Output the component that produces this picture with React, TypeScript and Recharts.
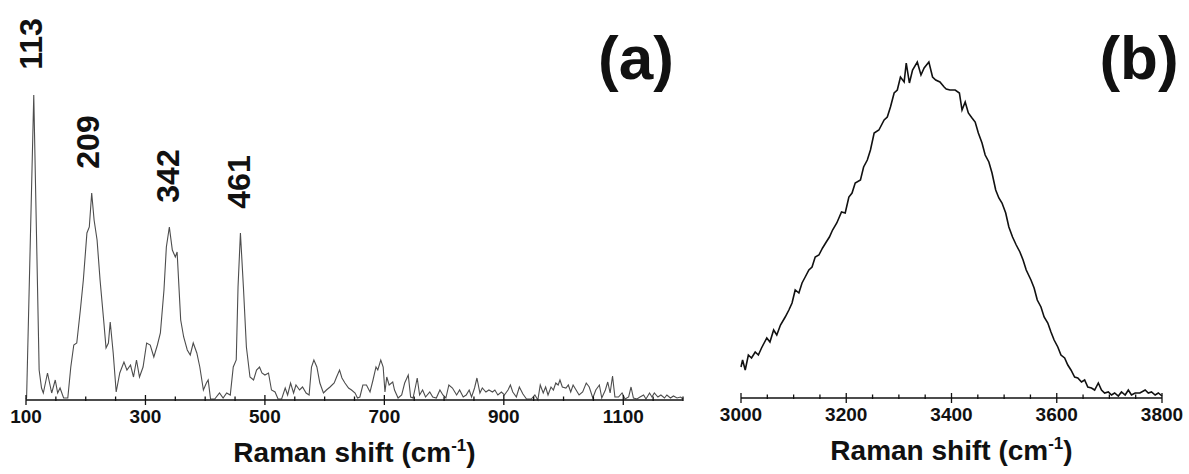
import React from 'react';
import { ComposedChart, Line, Scatter, XAxis, YAxis } from 'recharts';

// Panel (a): low-frequency Raman spectrum
const shiftA = [
  100, 101, 113, 122, 126, 129, 136, 143, 149, 153, 157, 163, 170, 175, 180, 185, 191, 196, 202, 206,
  210, 214, 219, 224, 230, 234, 238, 241, 246, 251, 257, 264, 269, 275, 280, 285, 290, 296, 302, 308,
  314, 320, 325, 331, 335, 340, 345, 350, 353, 359, 364, 370, 375, 380, 386, 391, 397, 402, 405, 409,
  416, 424, 430, 436, 442, 447, 452, 455, 459, 464, 469, 475, 481, 486, 491, 495, 500, 506, 511, 517,
  522, 528, 534, 538, 543, 548, 552, 558, 563, 569, 574, 578, 582, 587, 592, 598, 603, 609, 616, 620,
  625, 629, 634, 640, 645, 651, 655, 659, 664, 670, 676, 681, 686, 689, 694, 698, 701, 704, 708, 714,
  717, 723, 729, 734, 740, 744, 748, 752, 755, 759, 764, 769, 776, 781, 787, 793, 798, 803, 808, 814,
  821, 826, 832, 837, 842, 846, 851, 855, 860, 864, 870, 875, 881, 885, 890, 896, 901, 907, 911, 915,
  921, 926, 932, 938, 946, 952, 957, 961, 966, 970, 974, 979, 983, 987, 991, 994, 998, 1004, 1008, 1012,
  1016, 1021, 1026, 1032, 1038, 1043, 1049, 1054, 1060, 1064, 1070, 1074, 1078, 1082, 1086, 1092, 1098, 1103, 1109, 1113,
  1117, 1123, 1128, 1134, 1138, 1144, 1148, 1152, 1158, 1163, 1169, 1173, 1179, 1184, 1190, 1196, 1200,
];
const intensityA = [
  1, 2, 305, 30, 12, 7, 27, 7, 20, 7, 12, 2, 2, 33, 55, 57, 90, 120, 167, 173,
  207, 180, 160, 120, 80, 52, 57, 78, 47, 8, 27, 38, 30, 35, 23, 40, 23, 33, 57, 55,
  43, 55, 67, 110, 153, 173, 150, 143, 148, 80, 63, 50, 45, 57, 47, 33, 10, 17, 20, 1,
  1, 7, 2, 7, 5, 33, 40, 113, 167, 113, 53, 23, 20, 30, 33, 27, 25, 27, 10, 8,
  1, 1, 12, 5, 17, 7, 15, 10, 13, 7, 5, 33, 40, 33, 17, 7, 10, 13, 17, 23,
  30, 22, 17, 12, 10, 7, 2, 3, 15, 15, 8, 20, 33, 30, 40, 33, 8, 23, 15, 18,
  10, 2, 5, 17, 25, 3, 2, 13, 22, 5, 10, 3, 8, 3, 2, 10, 5, 2, 15, 12,
  5, 10, 3, 5, 10, 3, 12, 22, 7, 12, 8, 10, 8, 10, 5, 8, 5, 10, 15, 8,
  3, 13, 6, 1, 1, 5, 0, 15, 7, 13, 5, 13, 10, 17, 15, 20, 13, 12, 15, 8,
  15, 10, 5, 8, 17, 13, 2, 10, 15, 2, 10, 18, 7, 24, 3, 3, 7, 1, 3, 13,
  2, 1, 3, 5, 1, 7, 3, 7, 3, 5, 2, 5, 2, 4, 2, 3, 1,
];

// Panel (b): O-H stretching region
const shiftB = [
  3000, 3003, 3008, 3014, 3020, 3027, 3033, 3039, 3049, 3055, 3062, 3068, 3075, 3084, 3091, 3097, 3103, 3110, 3116, 3122,
  3129, 3135, 3141, 3148, 3155, 3162, 3168, 3174, 3182, 3191, 3198, 3205, 3211, 3217, 3227, 3233, 3240, 3246, 3253, 3262,
  3272, 3278, 3284, 3291, 3297, 3303, 3310, 3314, 3320, 3326, 3335, 3342, 3348, 3357, 3364, 3370, 3378, 3386, 3390, 3397,
  3407, 3415, 3420, 3426, 3432, 3439, 3445, 3451, 3458, 3464, 3471, 3477, 3484, 3490, 3496, 3503, 3509, 3516, 3523, 3530,
  3536, 3542, 3551, 3557, 3563, 3570, 3576, 3583, 3589, 3595, 3602, 3608, 3615, 3621, 3627, 3634, 3640, 3647, 3653, 3659,
  3666, 3672, 3679, 3685, 3691, 3698, 3704, 3710, 3717, 3723, 3730, 3736, 3742, 3749, 3758, 3768, 3774, 3780, 3787, 3793,
  3800,
];
const intensityB = [
  31, 38, 28, 43, 40, 46, 43, 50, 60, 56, 68, 63, 73, 81, 88, 95, 108, 105, 115, 121,
  128, 131, 141, 143, 150, 156, 161, 168, 175, 186, 185, 201, 205, 215, 218, 231, 238, 248, 265, 268,
  278, 281, 291, 305, 308, 321, 316, 335, 315, 328, 336, 323, 330, 336, 321, 318, 316, 311, 309, 308,
  308, 305, 288, 296, 285, 280, 276, 265, 255, 243, 236, 225, 208, 200, 195, 185, 171, 161, 153, 146,
  138, 128, 118, 110, 98, 91, 81, 75, 66, 58, 51, 43, 40, 33, 28, 21, 20, 16, 18, 11,
  10, 8, 15, 8, 5, 6, 3, 5, 2, 6, 3, 8, 3, 5, 5, 8, 5, 6, 3, 5,
  2,
];

const peakShifts = [113, 209, 342, 461];
const peakIntensities = [305, 207, 173, 167];

const ticksA = [100, 150, 200, 250, 300, 350, 400, 450, 500, 550, 600, 650, 700, 750, 800, 850, 900, 950, 1000, 1050, 1100, 1150, 1200];
const majorTicksA = [100, 300, 500, 700, 900, 1100];
const ticksB = [3000, 3050, 3100, 3150, 3200, 3250, 3300, 3350, 3400, 3450, 3500, 3550, 3600, 3650, 3700, 3750, 3800];
const majorTicksB = [3000, 3200, 3400, 3600, 3800];

const panelLabels = ['(a)', '(b)'];
const axisTitle = 'Raman shift (cm';
const axisTitleSup = '-1';
const axisTitleEnd = ')';

const FONT = '"Liberation Sans", Arial, Helvetica, sans-serif';

const dataA = shiftA.map((x, i) => ({ x, y: intensityA[i] }));
const dataB = shiftB.map((x, i) => ({ x, y: intensityB[i] }));
const peakData = peakShifts.map((x, i) => ({ x, y: peakIntensities[i], label: String(x) }));

function makeTick(majors: number[]) {
  return (props: any) => {
    const { x, y, payload } = props;
    const v = payload.value;
    const isMajor = majors.includes(v);
    return (
      <g>
        <line x1={x} x2={x} y1={y - (isMajor ? 5 : 3.5)} y2={y + (isMajor ? 5 : 1)} stroke="#111" strokeWidth={1.3} />
        {isMajor && (
          <text x={x} y={y + 23} textAnchor="middle" fontFamily={FONT} fontWeight="bold" fontSize={19} fill="#111">
            {v}
          </text>
        )}
      </g>
    );
  };
}

const AxisTitle = (props: any) => {
  const vb = props.viewBox || { x: 0, y: 0, width: 0, height: 0 };
  const cx = vb.x + vb.width / 2;
  return (
    <text x={cx} y={vb.y + 62} textAnchor="middle" fontFamily={FONT} fontWeight="bold" fontSize={28} fill="#111">
      <tspan>{axisTitle}</tspan>
      <tspan dy={-11} fontSize={17}>{axisTitleSup}</tspan>
      <tspan dy={11}>{axisTitleEnd}</tspan>
    </text>
  );
};

const PeakLabel = (props: any) => {
  const { cx, cy, payload } = props;
  if (cx == null || cy == null) return null;
  const tx = cx - 3;
  const ty = cy - 51;
  return (
    <text
      x={tx}
      y={ty}
      transform={`rotate(-90 ${tx} ${ty})`}
      textAnchor="middle"
      dominantBaseline="central"
      fontFamily={FONT}
      fontWeight="bold"
      fontSize={32}
      fill="#111"
    >
      {payload.label}
    </text>
  );
};

export default function App() {
  return (
    <div style={{ position: 'absolute', left: 0, top: 0, width: 1189, height: 474, background: '#fff', overflow: 'hidden' }}>
      <div style={{ position: 'absolute', left: 0, top: 0 }}>
        <ComposedChart width={700} height={474} margin={{ top: 0, right: 17, bottom: 0, left: 26 }}>
          <XAxis
            type="number"
            dataKey="x"
            domain={[100, 1200]}
            ticks={ticksA}
            interval={0}
            height={74}
            tickSize={0}
            tickMargin={0}
            tickLine={false}
            axisLine={{ stroke: '#111', strokeWidth: 1.5 }}
            tick={makeTick(majorTicksA)}
            label={<AxisTitle />}
          />
          <YAxis type="number" dataKey="y" domain={[0, 400]} hide width={0} />
          <Line
            data={dataA}
            type="linear"
            dataKey="y"
            stroke="#4d4d4d"
            strokeWidth={1.1}
            dot={false}
            isAnimationActive={false}
          />
          <Scatter data={peakData} shape={<PeakLabel />} isAnimationActive={false} />
        </ComposedChart>
      </div>
      <div style={{ position: 'absolute', left: 700, top: 0 }}>
        <ComposedChart width={489} height={474} margin={{ top: 0, right: 27, bottom: 0, left: 41 }}>
          <XAxis
            type="number"
            dataKey="x"
            domain={[3000, 3800]}
            ticks={ticksB}
            interval={0}
            height={76}
            tickSize={0}
            tickMargin={0}
            tickLine={false}
            axisLine={{ stroke: '#111', strokeWidth: 1.5 }}
            tick={makeTick(majorTicksB)}
            label={<AxisTitle />}
          />
          <YAxis type="number" dataKey="y" domain={[0, 398]} hide width={0} />
          <Line
            data={dataB}
            type="linear"
            dataKey="y"
            stroke="#111"
            strokeWidth={1.6}
            dot={false}
            isAnimationActive={false}
          />
        </ComposedChart>
      </div>
      <svg width={1189} height={120} style={{ position: 'absolute', left: 0, top: 0, pointerEvents: 'none' }}>
        <text x={636} y={79} textAnchor="middle" fontFamily={FONT} fontWeight="bold" fontSize={62} fill="#111">
          {panelLabels[0]}
        </text>
        <text x={1139} y={79} textAnchor="middle" fontFamily={FONT} fontWeight="bold" fontSize={62} fill="#111">
          {panelLabels[1]}
        </text>
      </svg>
    </div>
  );
}
